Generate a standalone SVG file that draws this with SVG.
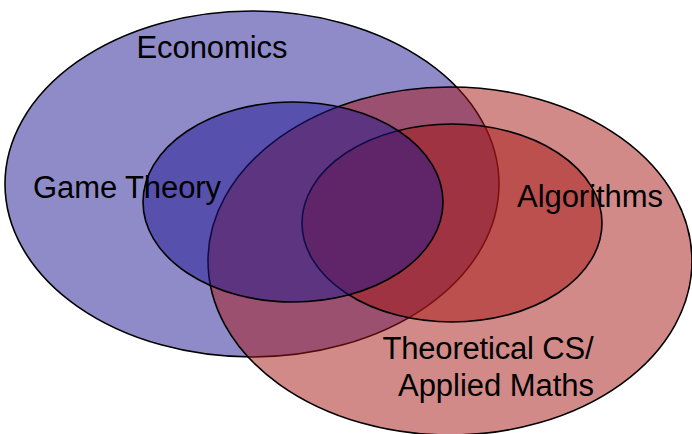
<svg xmlns="http://www.w3.org/2000/svg" width="692" height="434" viewBox="0 0 692 434">
<style>
.blue{fill:rgb(31,23,145);fill-opacity:0.5;stroke:#000;stroke-width:1.6}
.red{fill:rgb(165,21,19);fill-opacity:0.5;stroke:#000;stroke-width:1.6}
text{font-family:"Liberation Sans",Arial,sans-serif;font-size:31px;fill:#000}
</style>
<rect width="692" height="434" fill="#fff"/>
<g id="economics"><ellipse class="blue" cx="252" cy="184" rx="247" ry="173"/></g>
<g id="theoretical-cs"><ellipse class="red" cx="450" cy="261" rx="242" ry="174"/></g>
<g id="algorithms"><ellipse class="red" cx="452" cy="223" rx="150" ry="99"/></g>
<g id="game-theory"><ellipse class="blue" cx="293" cy="202" rx="150" ry="100"/></g>
<g id="labels">
<text x="212" y="58" text-anchor="middle" textLength="151">Economics</text>
<text x="33" y="198" textLength="188">Game Theory</text>
<text x="517" y="207" textLength="146">Algorithms</text>
<text x="488" y="359" text-anchor="middle" textLength="211">Theoretical CS/</text>
<text x="496" y="396" text-anchor="middle" textLength="196">Applied Maths</text>
</g>
</svg>
